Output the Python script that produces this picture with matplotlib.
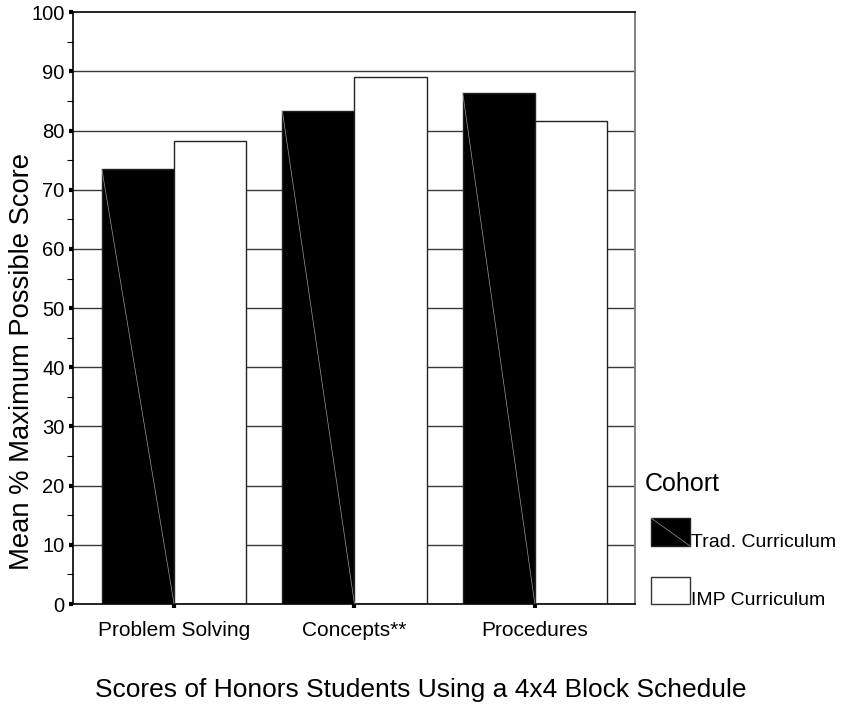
import matplotlib
matplotlib.use("Agg")
import matplotlib.pyplot as plt
import numpy as np
from matplotlib.patches import Rectangle
from matplotlib.lines import Line2D

plt.rcParams['font.family'] = ['Liberation Sans', 'DejaVu Sans']

categories = ["Problem Solving", "Concepts**", "Procedures"]
trad = [73.5, 83.4, 86.4]
imp = [78.2, 89.1, 81.7]
series_names = ["Trad. Curriculum", "IMP Curriculum"]
yticks = list(range(0, 101, 10))

W, H = 843, 715
fig = plt.figure(figsize=(W / 100, H / 100), dpi=100)
ax = fig.add_axes([73 / W, 1 - 604 / H, (635 - 73) / W, (604 - 12.3) / H])

x = np.arange(len(categories))
bw = 0.4
ax.set_xlim(-0.56, 2.555)
ax.set_ylim(0, 100)

# gridlines
for v in yticks[1:-1]:
    ax.axhline(v, color='#3a3a3a', lw=1.0, zorder=0)

ax.bar(x - bw / 2, trad, width=bw, color='black', edgecolor='#222222', lw=1.0, zorder=2)
ax.bar(x + bw / 2, imp, width=bw, color='white', edgecolor='#222222', lw=1.0, zorder=2)

# thin diagonal artifact in black bars
for xi, h in zip(x, trad):
    ax.plot([xi - bw, xi], [h, 0], color='#9a9a9a', lw=0.5, zorder=3)

ax.set_yticks(yticks)
ax.set_yticks(range(5, 100, 10), minor=True)
ax.set_yticklabels([str(v) for v in yticks], fontsize=14.5)
ax.tick_params(axis='y', which='major', length=3, width=3, direction='out', pad=3, color='black')
ax.tick_params(axis='y', which='minor', length=4.5, width=0.8, direction='out', color='black')
ax.set_xticks(x)
ax.set_xticklabels(categories, fontsize=15)
ax.tick_params(axis='x', length=3, width=3, direction='out', pad=9, color='black')

for s in ['left', 'bottom', 'top']:
    ax.spines[s].set_color('black')
    ax.spines[s].set_linewidth(1.2)
ax.spines['right'].set_color('#808080')
ax.spines['right'].set_linewidth(1.4)

# y label
fig.text(22 / W, 1 - 362 / H, "Mean % Maximum Possible Score", rotation=90,
         ha='center', va='center', fontsize=19.7)

# legend
fig.text(645 / W, 1 - 484 / H, "Cohort", ha='left', va='center', fontsize=18)
leg_rows = [(518, 546, 'black', '#222222'), (577, 604, 'white', '#333333')]
for (y0, y1, fc, ec), name in zip(leg_rows, series_names):
    r = Rectangle((651 / W, 1 - y1 / H), 39 / W, (y1 - y0) / H, transform=fig.transFigure,
                  facecolor=fc, edgecolor=ec, lw=1.0)
    fig.add_artist(r)
    if fc == 'black':
        fig.add_artist(Line2D([651 / W, 690 / W], [1 - y0 / H, 1 - y1 / H],
                              transform=fig.transFigure, color='#9a9a9a', lw=0.5))
    fig.text(691 / W, 1 - (y1 + 1) / H, name, ha='left', va='baseline', fontsize=14)

fig.text(421 / W, 1 - 690 / H, "Scores of Honors Students Using a 4x4 Block Schedule",
         ha='center', va='center', fontsize=19)

fig.savefig("out.png", dpi=100)
